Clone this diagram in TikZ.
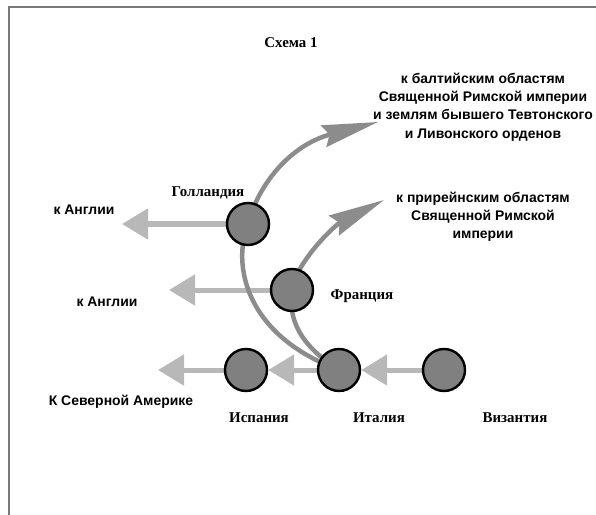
\documentclass[tikz,border=0pt]{standalone}
\usepackage{fontspec}
\setmainfont{Liberation Serif}
\setsansfont{Liberation Sans}
\usetikzlibrary{arrows.meta,backgrounds}
\definecolor{statefill}{RGB}{128,128,128}
\definecolor{flowdark}{RGB}{140,140,140}
\definecolor{flowlight}{RGB}{184,184,184}
\definecolor{framegray}{RGB}{120,120,120}

\begin{document}
\begin{tikzpicture}[x=1bp,y=-1bp,
    state/.style={circle,draw=black,line width=2.4bp,fill=statefill,minimum size=42bp,inner sep=0pt},
    country/.style={font=\fontsize{15}{17}\selectfont\bfseries},
    dest/.style={font=\sffamily\bfseries\fontsize{14}{18.3}\selectfont,align=center},
    sea/.style={draw=flowlight,line width=5bp,-{Triangle[length=26bp,width=30bp]}},
    land/.style={draw=flowdark,line width=4.5bp,-{Stealth[length=56bp,width=22bp,inset=6bp]}}]
    \clip (0,0) rectangle (596,515);
    % draw frame
    \draw[framegray,line width=2bp] (8.5,515) -- (8.5,7.5) -- (596,7.5);

    % draw nodes
    \node[state] (holl)  at (248,224) {};
    \node[state] (fran)  at (292,290) {};
    \node[state] (spain) at (246,370) {};
    \node[state] (ital)  at (339,370) {};
    \node[state] (byz)   at (444,370) {};

    \node[country] (title)  at (291,43)  {Схема 1};
    \node[country] (hollT)  at (208,193) {Голландия};
    \node[country] (franT)  at (362,296) {Франция};
    \node[country] (spainT) at (259,418) {Испания};
    \node[country] (italT)  at (379,418) {Италия};
    \node[country] (byzT)   at (515,418) {Византия};

    \node[dest] (baltT) at (483,107) {к балтийским областям\\Священной Римской империи\\и землям бывшего Тевтонского\\и Ливонского орденов};
    \node[dest] (rhinT) at (483,217) {к прирейнским областям\\Священной Римской\\империи};
    \node[dest] (engT1) at (84,210)  {к Англии};
    \node[dest] (engT2) at (107,302) {к Англии};
    \node[dest] (amerT) at (121,402) {К Северной Америке};

    % arrow ends
    \coordinate (eng1) at (122,224);
    \coordinate (eng2) at (169,290);
    \coordinate (amer) at (158,370);
    \coordinate (balt) at (378,122);
    \coordinate (rhin) at (384,200);

    % draw arrows
    \begin{scope}[on background layer]
      \draw[sea] (holl.center) -- (eng1);
      \draw[sea] (fran.center) -- (eng2);
      \draw[sea] (spain.center) -- (amer);
      \draw[sea] (ital.center) -- (spain.east);
      \draw[sea] (byz.center) -- (ital.east);
      \draw[land] (ital.center) .. controls (245,335) and (232,265) .. (holl.center)
        .. controls (258,185) and (290,145) .. (balt);
      \draw[land] (ital.center) .. controls (300,345) and (288,320) .. (fran.center)
        .. controls (296,262) and (335,225) .. (rhin);
    \end{scope}
  \end{tikzpicture}
\end{document}
